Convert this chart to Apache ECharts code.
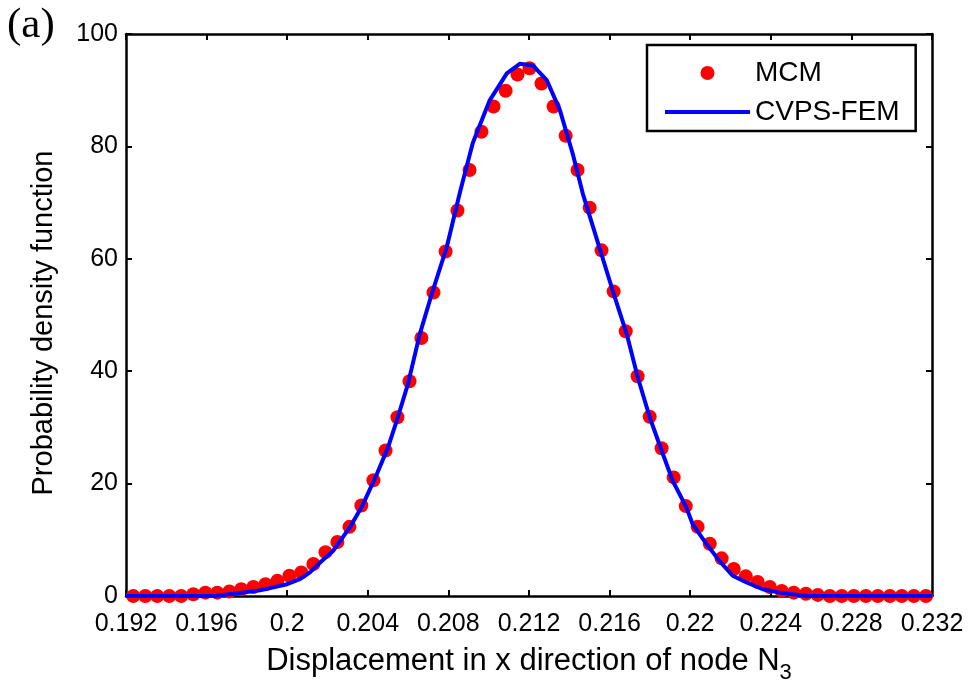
<!DOCTYPE html>
<html>
<head>
<meta charset="utf-8">
<script src="https://cdn.jsdelivr.net/npm/echarts@6/dist/echarts.min.js"></script>
<style>
html,body{margin:0;padding:0;background:#fff;}
#chart{width:972px;height:690px;}
</style>
</head>
<body>
<div id="chart"></div>
<script>
// MCM histogram points (x, pdf)
const mcmX = [0.19236,0.19296,0.19355,0.19415,0.19474,0.19534,0.19594,0.19653,0.19713,0.19772,
  0.19832,0.19892,0.19951,0.20011,0.20070,0.20130,0.20190,0.20249,0.20309,0.20368,
  0.20428,0.20488,0.20547,0.20607,0.20666,0.20726,0.20786,0.20845,0.20905,0.20964,
  0.21024,0.21084,0.21143,0.21203,0.21262,0.21322,0.21382,0.21441,0.21501,0.21560,
  0.21620,0.21680,0.21739,0.21799,0.21858,0.21918,0.21978,0.22037,0.22097,0.22156,
  0.22216,0.22276,0.22335,0.22395,0.22454,0.22514,0.22574,0.22633,0.22693,0.22752,
  0.22812,0.22872,0.22931,0.22991,0.23050,0.23110,0.23170];
const mcmY = [0,0,0,0,0,0.3,0.6,0.6,0.8,1.2,
  1.6,2.1,2.7,3.6,4.2,5.7,7.8,9.6,12.3,16.1,
  20.6,25.9,31.8,38.2,45.9,54.0,61.3,68.6,75.8,82.6,
  87.1,89.9,92.8,93.9,91.2,87.1,81.9,75.8,69.1,61.5,
  54.2,47.1,39.1,31.9,26.3,21.1,16.0,12.3,9.3,6.7,
  4.8,3.5,2.5,1.6,0.9,0.6,0.4,0.2,0,0,
  0,0,0,0,0,0,0];
// CVPS-FEM curve
const femX = [0.192,0.19641,0.19731,0.19865,0.19999,0.20063,0.20113,0.20162,0.20227,0.20311,
  0.20376,0.20445,0.20500,0.20549,0.20599,0.20658,0.20723,0.20792,0.20857,0.20921,
  0.21005,0.21090,0.21154,0.21219,0.21288,0.21353,0.21417,0.21467,0.21551,0.21615,
  0.21685,0.21740,0.21799,0.21859,0.21913,0.21978,0.22012,0.22082,0.22146,0.22211,
  0.22280,0.22360,0.22444,0.22508,0.22578,0.232];
const femY = [0,0,0.4,1.0,2.1,3.0,4.2,5.9,8.0,12.2,
  16.3,21.7,26.4,31.8,37.7,46.6,54.4,62.1,71.8,80.6,
  88.2,93.0,94.7,94.4,91.8,86.5,78.7,71.6,61.8,54.4,
  46.6,38.9,31.8,25.8,20.5,16.0,12.8,9.2,6.2,3.6,
  2.4,1.2,0.6,0.3,0,0];
const xTicks = {min:0.192, max:0.232, step:0.004};
const yTicks = {min:0, max:100, step:20};
const seriesNames = ['MCM','CVPS-FEM'];

const chart = echarts.init(document.getElementById('chart'));
const sans = 'Liberation Sans, Arial, sans-serif';
const axisCommon = {
  axisLine:{show:true, onZero:false, lineStyle:{color:'#000', width:2.5}},
  axisTick:{show:true, inside:true, length:6, lineStyle:{color:'#000', width:2}},
  splitLine:{show:false}
};
chart.setOption({
  animation:false,
  backgroundColor:'#fff',
  grid:{left:126, right:40, top:34, bottom:94},
  graphic:[{type:'text', left:7, top:4, style:{text:'(a)', font:'43px "Liberation Serif", "Times New Roman", serif', fill:'#000'}}],
  legend:{
    orient:'vertical', left:647, top:45,
    padding:[14,16,5,18], itemGap:11, itemWidth:85, itemHeight:14,
    borderColor:'#000', borderWidth:2.5, backgroundColor:'#fff',
    textStyle:{fontFamily:sans, fontSize:28, color:'#000'},
    data:[{name:seriesNames[0], icon:'circle'},
          {name:seriesNames[1], icon:'path://M0,0 L85,0 L85,4 L0,4 Z'}]
  },
  xAxis:[
    Object.assign({type:'value', min:xTicks.min, max:xTicks.max, interval:xTicks.step, position:'bottom',
      name:'{m|Displacement in x direction of node N}{s|3}', nameLocation:'middle', nameGap:42,
      nameTextStyle:{fontFamily:sans, fontSize:31, color:'#000', rich:{m:{fontFamily:sans, fontSize:31, color:'#000'}, s:{fontFamily:sans, fontSize:22, color:'#000', padding:[24,0,0,0]}}},
      axisLabel:{fontFamily:sans, fontSize:25, color:'#000', margin:16, formatter:v=>String(parseFloat(v.toFixed(3)))}
    }, axisCommon),
    Object.assign({type:'value', min:xTicks.min, max:xTicks.max, interval:xTicks.step, position:'top', axisLabel:{show:false}}, axisCommon)
  ],
  yAxis:[
    Object.assign({type:'value', min:yTicks.min, max:yTicks.max, interval:yTicks.step, position:'left',
      name:'Probability density function', nameLocation:'middle', nameGap:68,
      nameTextStyle:{fontFamily:sans, fontSize:29, color:'#000', padding:[0,16,0,0]},
      axisLabel:{fontFamily:sans, fontSize:25, color:'#000', margin:8}
    }, axisCommon),
    Object.assign({type:'value', min:yTicks.min, max:yTicks.max, interval:yTicks.step, position:'right', axisLabel:{show:false}}, axisCommon)
  ],
  series:[
    {name:seriesNames[0], type:'scatter', symbol:'circle', symbolSize:14, clip:false,
      itemStyle:{color:'#ff0000', opacity:1}, z:2,
      data: mcmX.map((x,i)=>[x, mcmY[i]])},
    {name:seriesNames[1], type:'line', symbol:'none', showSymbol:false, smooth:false,
      lineStyle:{color:'#0000ff', width:4}, itemStyle:{color:'#0000ff'}, z:3,
      data: femX.map((x,i)=>[x, femY[i]])}
  ]
});
</script>
</body>
</html>
